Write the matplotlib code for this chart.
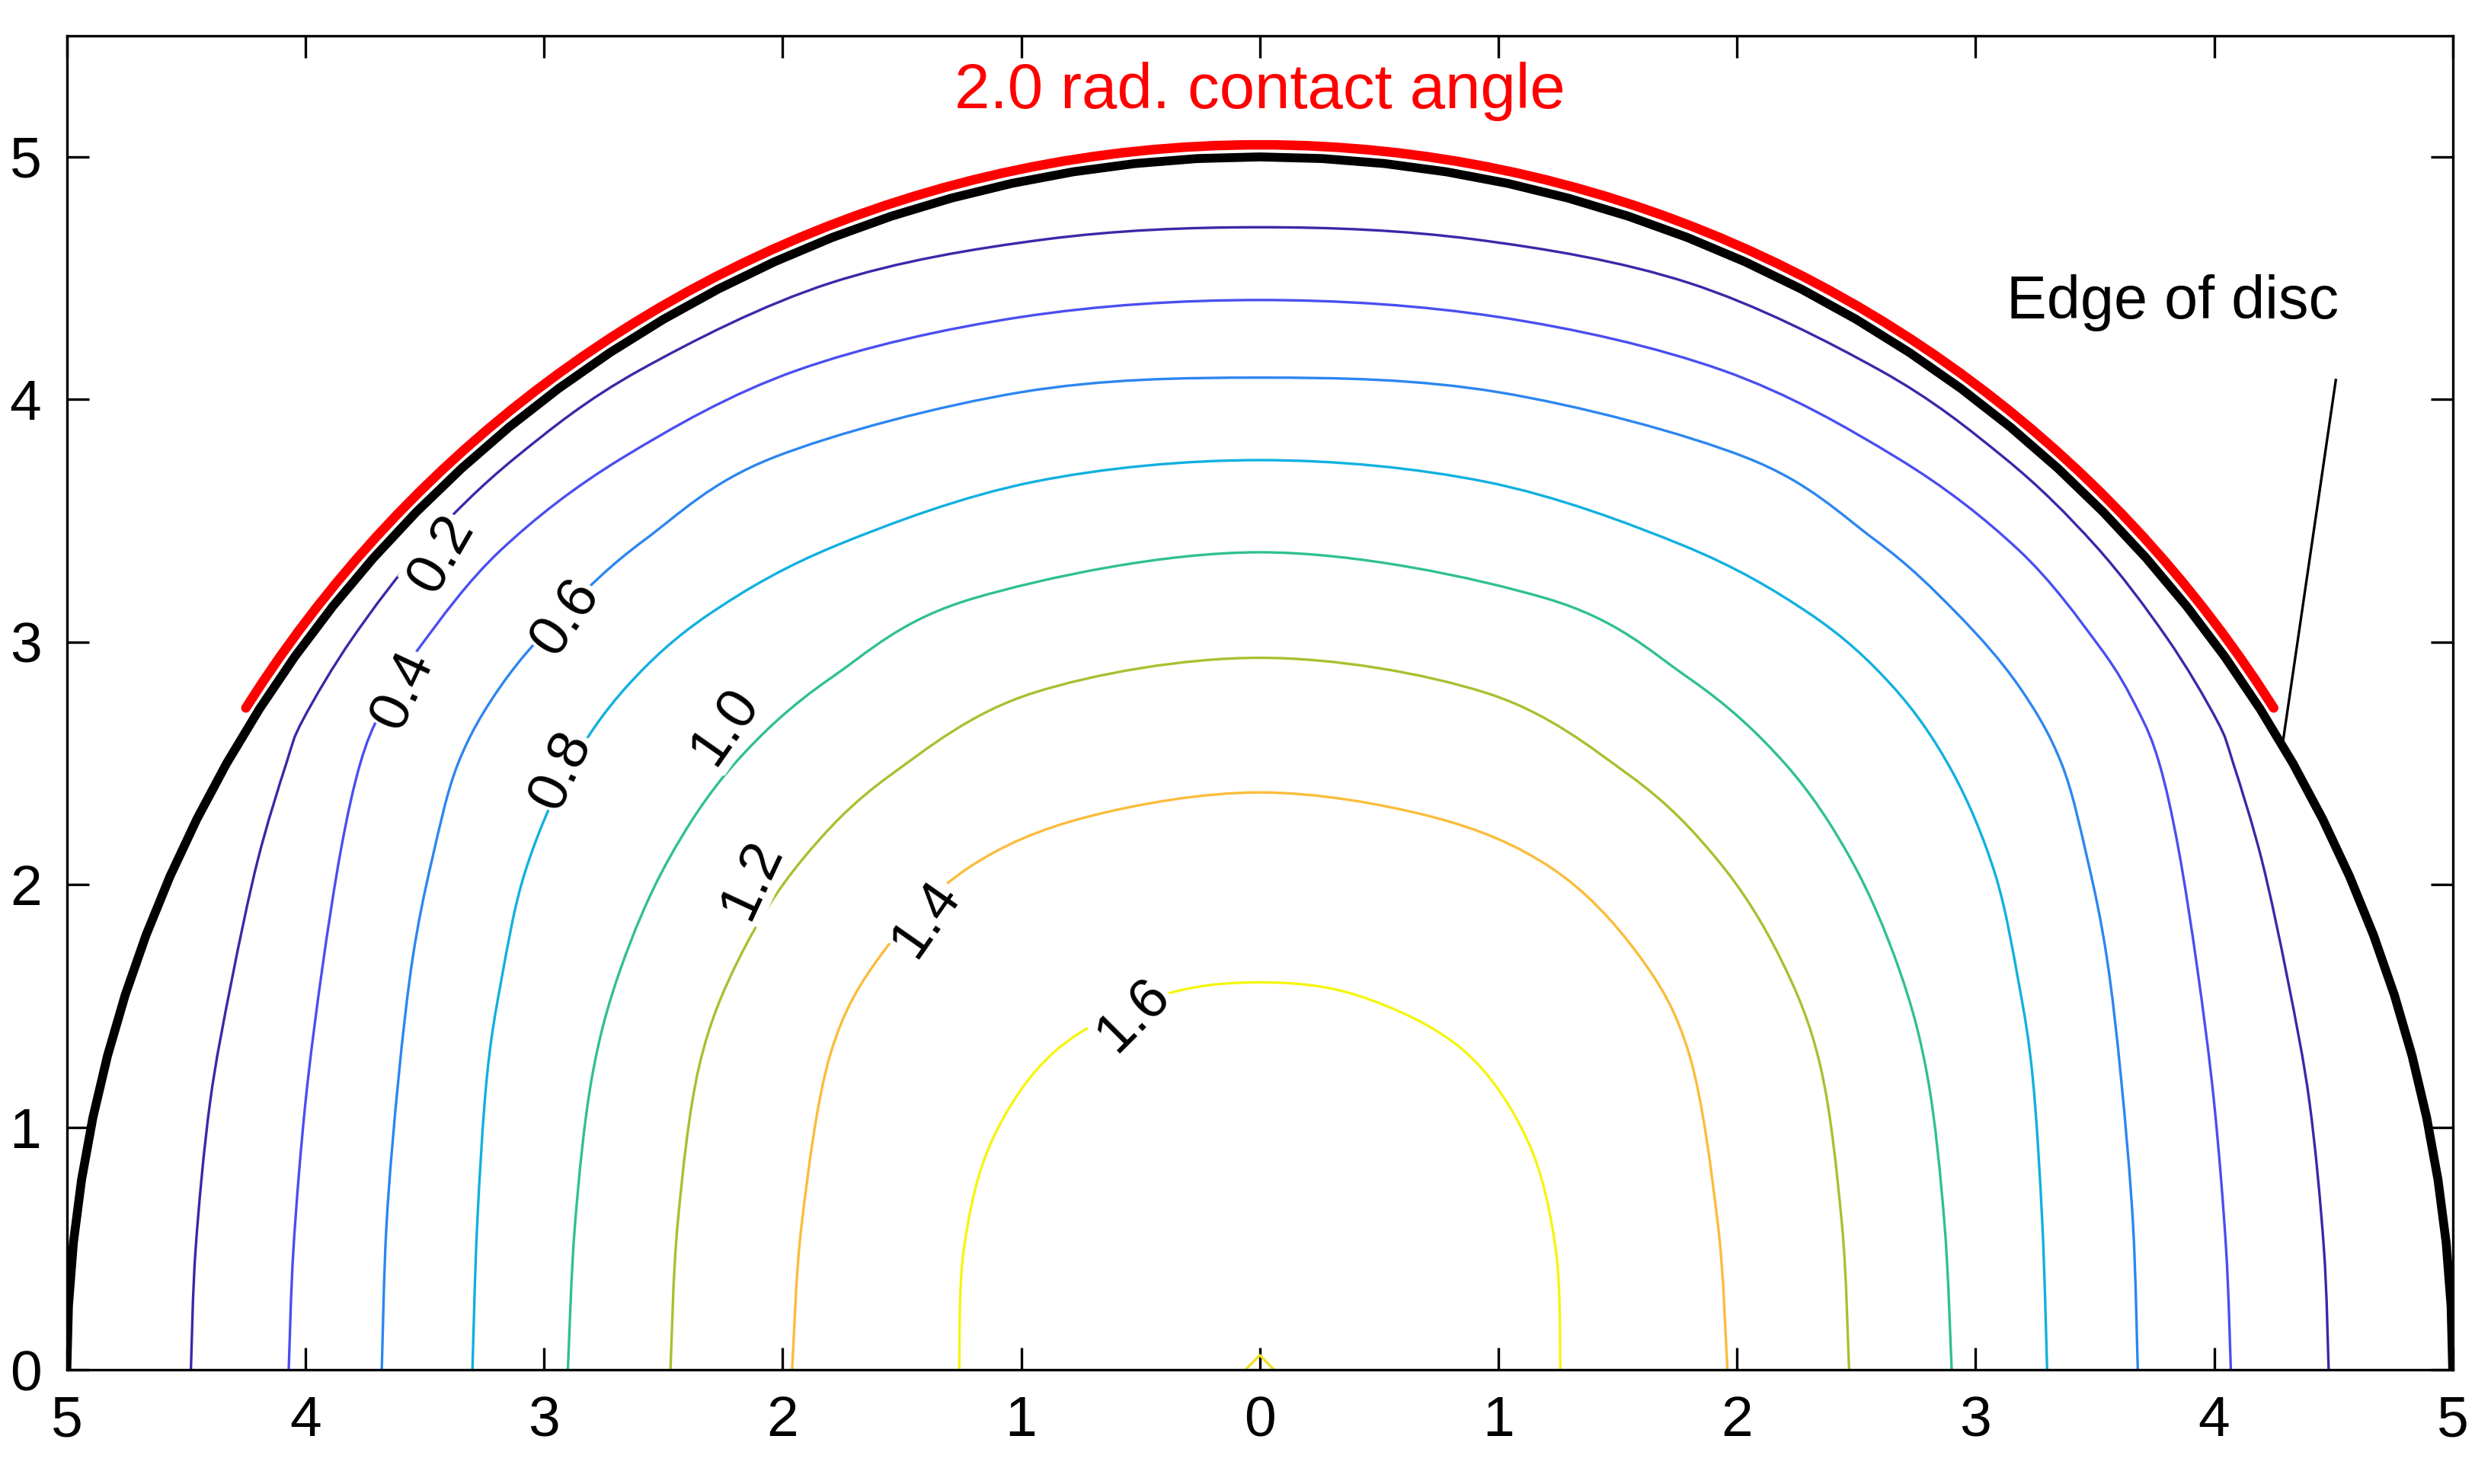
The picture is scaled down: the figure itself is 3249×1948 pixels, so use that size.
import numpy as np
import matplotlib
matplotlib.use("Agg")
import matplotlib.pyplot as plt
from matplotlib.path import Path
from matplotlib.patches import PathPatch

plt.rcParams['font.family'] = ['Liberation Sans', 'DejaVu Sans']

levels = [0.2, 0.4, 0.6, 0.8, 1.0, 1.2, 1.4, 1.6]
colors = ['#3e26a8', '#4a4ef0', '#2c86f0', '#10b0e0', '#30c090', '#a8c030', '#fbbc3c', '#f5f510']
# right-half contour points (x, y), mirrored for the left half
contour_x = [
    [4.48, 4.46, 4.40, 4.31, 4.20, 4.08, 4.01, 3.80, 3.50, 3.12, 2.60, 1.80, 0.90, 0.00],
    [4.07, 4.05, 4.00, 3.93, 3.85, 3.77, 3.68, 3.52, 3.18, 2.67, 1.94, 1.00, 0.00],
    [3.68, 3.66, 3.61, 3.55, 3.47, 3.36, 3.18, 2.92, 2.58, 2.04, 1.00, 0.00],
    [3.30, 3.28, 3.24, 3.18, 3.08, 2.90, 2.65, 2.30, 1.77, 0.95, 0.00],
    [2.90, 2.87, 2.80, 2.68, 2.48, 2.20, 1.80, 1.20, 0.00],
    [2.47, 2.44, 2.35, 2.18, 1.92, 1.55, 0.95, 0.00],
    [1.96, 1.92, 1.80, 1.58, 1.22, 0.72, 0.00],
    [1.26, 1.24, 1.12, 0.85, 0.42, 0.00],
]
contour_y = [
    [0.00, 0.50, 1.10, 1.60, 2.10, 2.50, 2.68, 3.02, 3.40, 3.76, 4.12, 4.48, 4.66, 4.71],
    [0.00, 0.50, 1.10, 1.65, 2.15, 2.50, 2.72, 2.98, 3.38, 3.76, 4.12, 4.34, 4.41],
    [0.00, 0.60, 1.20, 1.70, 2.10, 2.50, 2.82, 3.12, 3.42, 3.76, 4.03, 4.09],
    [0.00, 0.60, 1.20, 1.60, 2.05, 2.47, 2.82, 3.12, 3.40, 3.66, 3.75],
    [0.00, 0.60, 1.20, 1.65, 2.10, 2.50, 2.85, 3.18, 3.37],
    [0.00, 0.60, 1.25, 1.70, 2.10, 2.45, 2.79, 2.935],
    [0.00, 0.60, 1.30, 1.72, 2.07, 2.28, 2.38],
    [0.00, 0.50, 0.95, 1.32, 1.54, 1.597],
]
label_pos = [(-3.43, 3.36, 60), (-3.59, 2.80, 65), (-2.91, 3.10, 55), (-2.93, 2.47, 65),
             (-2.24, 2.65, 55), (-2.13, 2.02, 65), (-1.40, 1.86, 55), (-0.53, 1.46, 45)]
peak_level = 1.8
peak_x = [-0.06, 0.0, 0.06]
peak_y = [0.0, 0.06, 0.0]
xticks = [-5, -4, -3, -2, -1, 0, 1, 2, 3, 4, 5]
xticklabels = ['5', '4', '3', '2', '1', '0', '1', '2', '3', '4', '5']
yticks = [0, 1, 2, 3, 4, 5]
disc_radius = 5.0
arc_radius = 5.05
arc_start_deg, arc_end_deg = 32.7, 147.3


def smooth_path(X, Y):
    """Catmull-Rom through the read points, drawn as cubic Bezier segments."""
    P = np.column_stack([X, Y])
    n = len(P)
    verts = [P[0]]
    codes = [Path.MOVETO]
    for i in range(n - 1):
        p0 = P[i - 1] if i > 0 else P[i]
        p1, p2 = P[i], P[i + 1]
        p3 = P[i + 2] if i + 2 < n else P[i + 1]
        c1 = p1 + (p2 - p0) / 6.0
        c2 = p2 - (p3 - p1) / 6.0
        verts += [c1, c2, p2]
        codes += [Path.CURVE4] * 3
    return Path(verts, codes)


fig = plt.figure(figsize=(3249/300, 1948/300), dpi=300)
ax = fig.add_axes([0.027, 0.077, 0.964, 0.899])

for lev, c, xs, ys, (lx, ly, rot) in zip(levels, colors, contour_x, contour_y, label_pos):
    xs = np.array(xs); ys = np.array(ys)
    X = np.concatenate([xs, -xs[::-1][1:]])
    Y = np.concatenate([ys, ys[::-1][1:]])
    ax.add_patch(PathPatch(smooth_path(X, Y), facecolor='none', edgecolor=c, lw=0.8, zorder=2))
    ax.text(lx, ly, f'{lev:.1f}', rotation=rot, ha='center', va='center', fontsize=18,
            bbox=dict(facecolor='white', edgecolor='none', pad=0.3), zorder=3)
ax.plot(peak_x, peak_y, color='#f0e020', lw=0.8, zorder=2)

t = np.linspace(0, np.pi, 61)
ax.plot(disc_radius*np.cos(t), disc_radius*np.sin(t), color='black', lw=2.8, zorder=4)
ta = np.radians(np.linspace(arc_start_deg, arc_end_deg, 80))
ax.plot(arc_radius*np.cos(ta), arc_radius*np.sin(ta), color='red', lw=3.0, zorder=5,
        solid_capstyle='round')

ax.text(0, 5.27, '2.0 rad. contact angle', color='red', fontsize=20, ha='center', va='center')
ax.text(3.13, 4.4, 'Edge of disc', fontsize=19, ha='left', va='center')
ax.plot([4.51, 4.29], [4.08, 2.6], color='black', lw=0.8)

ax.set_xlim(-5, 5)
ax.set_ylim(0, 5.5)
ax.set_xticks(xticks)
ax.set_xticklabels(xticklabels)
ax.set_yticks(yticks)
ax.tick_params(direction='in', top=True, right=True, labelsize=18, length=7, width=0.8, pad=8)
for s in ax.spines.values():
    s.set_linewidth(0.8)
fig.savefig('out.png', dpi=300)
